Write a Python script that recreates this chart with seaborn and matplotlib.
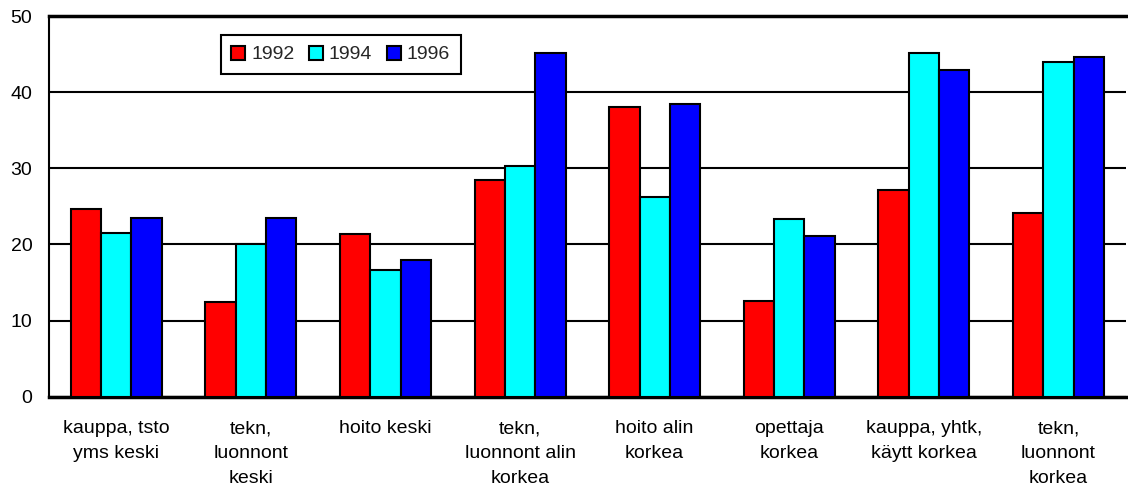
import pandas as pd
import numpy as np
import seaborn as sns
import matplotlib.pyplot as plt

categories = [
    "kauppa, tsto\nyms keski",
    "tekn,\nluonnont\nkeski",
    "hoito keski",
    "tekn,\nluonnont alin\nkorkea",
    "hoito alin\nkorkea",
    "opettaja\nkorkea",
    "kauppa, yhtk,\nkäytt korkea",
    "tekn,\nluonnont\nkorkea",
]
years = ["1992", "1994", "1996"]
v1992 = [24.6, 12.5, 21.4, 28.4, 38.1, 12.6, 27.1, 24.1]
v1994 = [21.5, 20.0, 16.7, 30.3, 26.2, 23.4, 45.2, 44.0]
v1996 = [23.5, 23.5, 18.0, 45.2, 38.5, 21.1, 42.9, 44.6]

df = pd.DataFrame({
    "cat": categories * 3,
    "year": [y for y in years for _ in categories],
    "value": v1992 + v1994 + v1996,
})

sns.set_style("white")
plt.rcParams['font.family'] = ['Liberation Sans', 'DejaVu Sans']

fig = plt.figure(figsize=(11.28, 4.91), dpi=100)
ax = fig.add_axes([49 / 1128, 1 - 396.7 / 491, 1 - 49 / 1128 - 0.002, (396.7 - 16) / 491])

colors = ["#ff0000", "#00ffff", "#0000ff"]
sns.barplot(data=df, x="cat", y="value", hue="year", palette=colors,
            width=0.675, gap=0, edgecolor="black", linewidth=1.5,
            saturation=1, ax=ax, zorder=3)

ax.set_ylim(0, 50)
ax.set_yticks([0, 10, 20, 30, 40, 50])
ax.yaxis.grid(True, color="black", linewidth=1.5, zorder=0)
ax.set_axisbelow(True)
ax.set_xlabel("")
ax.set_ylabel("")
ax.tick_params(axis="both", length=0, labelsize=14, colors="black")
ax.tick_params(axis="x", pad=17)
ax.tick_params(axis="y", pad=12)
for lab in ax.get_xticklabels():
    lab.set_linespacing(1.6)
    lab.set_verticalalignment("top")
for side in ["left", "bottom", "top"]:
    ax.spines[side].set_color("black")
ax.spines["left"].set_linewidth(1.5)
ax.spines["bottom"].set_linewidth(2.5)
ax.spines["top"].set_linewidth(2.5)
ax.spines["right"].set_visible(False)

ax.legend(loc="upper left", bbox_to_anchor=((221 - 49) / 1079, 1 - (35 - 16) / 380.7),
          ncol=3, frameon=True, fancybox=False, edgecolor="black", fontsize=14,
          handlelength=0.72, handleheight=0.72, handletextpad=0.3, columnspacing=0.75,
          borderpad=0.55, borderaxespad=0, framealpha=1)
ax.get_legend().get_frame().set_linewidth(1.5)

fig.savefig("out.png", dpi=100)
